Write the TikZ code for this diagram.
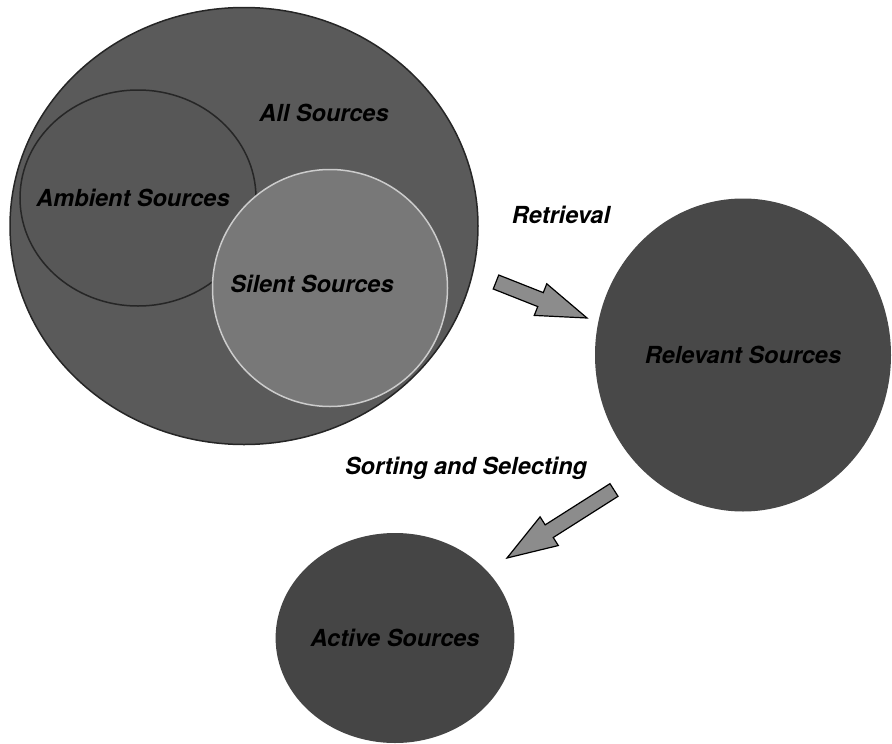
\documentclass[tikz,border=0pt]{standalone}
\usepackage{fontspec}
\setmainfont{TeX Gyre Heros}
\usepackage{tikz}
\usetikzlibrary{
  arrows.meta,
  positioning,
  shapes.geometric,
  calc
}
\definecolor{allgray}{HTML}{5A5A5A}
\definecolor{ambgray}{HTML}{575757}
\definecolor{silgray}{HTML}{787878}
\definecolor{relgray}{HTML}{484848}
\definecolor{actgray}{HTML}{454545}
\definecolor{arrgray}{HTML}{8C8C8C}

\begin{document}
\begin{tikzpicture}[
  x=1pt, y=-1pt,
  setnode/.style={
    ellipse, inner sep=0pt, line width=1.5pt,
    font=\fontsize{23.5}{27}\selectfont\bfseries\itshape, text=black
  },
  setlabel/.style={
    font=\fontsize{23.5}{27}\selectfont\bfseries\itshape, text=black, inner sep=0pt
  },
  fatarrow/.style={
    draw=black, fill=arrgray, line width=1.2pt, line join=miter,
    to path={
      ($(\tikztostart)!7.5pt!90:(\tikztotarget)$) --
      ($($(\tikztotarget)!50pt!(\tikztostart)$)!7.5pt!-90:(\tikztostart)$) --
      ($($(\tikztotarget)!50pt!(\tikztostart)$)!17pt!-90:(\tikztostart)$) --
      (\tikztotarget) --
      ($($(\tikztotarget)!50pt!(\tikztostart)$)!17pt!90:(\tikztostart)$) --
      ($($(\tikztotarget)!50pt!(\tikztostart)$)!7.5pt!90:(\tikztostart)$) --
      ($(\tikztostart)!7.5pt!-90:(\tikztotarget)$) -- cycle
    }
  }
]
\useasboundingbox (0,0) rectangle (892,744);

% the source sets
\node[setnode, draw=black!85, fill=allgray, minimum width=468pt, minimum height=437pt] (all) at (244,226) {};
\node[setnode, draw=black!85, fill=ambgray, minimum width=236pt, minimum height=216pt] (ambient) at (138,198) {};
\node[setnode, draw=white!80!black, fill=silgray, minimum width=235pt, minimum height=237pt] (silent) at (330,288) {};
\node[setnode, fill=relgray, minimum width=296pt, minimum height=313pt] (relevant) at (743,355) {Relevant Sources};
\node[setnode, fill=actgray, minimum width=230pt, minimum height=210pt] (active) at (395,638) {Active Sources};

\node[setlabel] (allL) at (324,113) {All Sources};
\node[setlabel] (ambientL) at (133,198) {Ambient Sources};
\node[setlabel] (silentL) at (312,284) {Silent Sources};

% the steps
\coordinate (retrTail) at (496,282);
\coordinate (retrTip) at (587,318);
\draw[fatarrow] (retrTail) to (retrTip);
\node[setlabel] (retrL) at (561,215) {Retrieval};

\coordinate (sortTail) at (614,490);
\coordinate (sortTip) at (507,558);
\draw[fatarrow] (sortTail) to (sortTip);
\node[setlabel] (sortL) at (466,468) {Sorting and Selecting};

\end{tikzpicture}
\end{document}
